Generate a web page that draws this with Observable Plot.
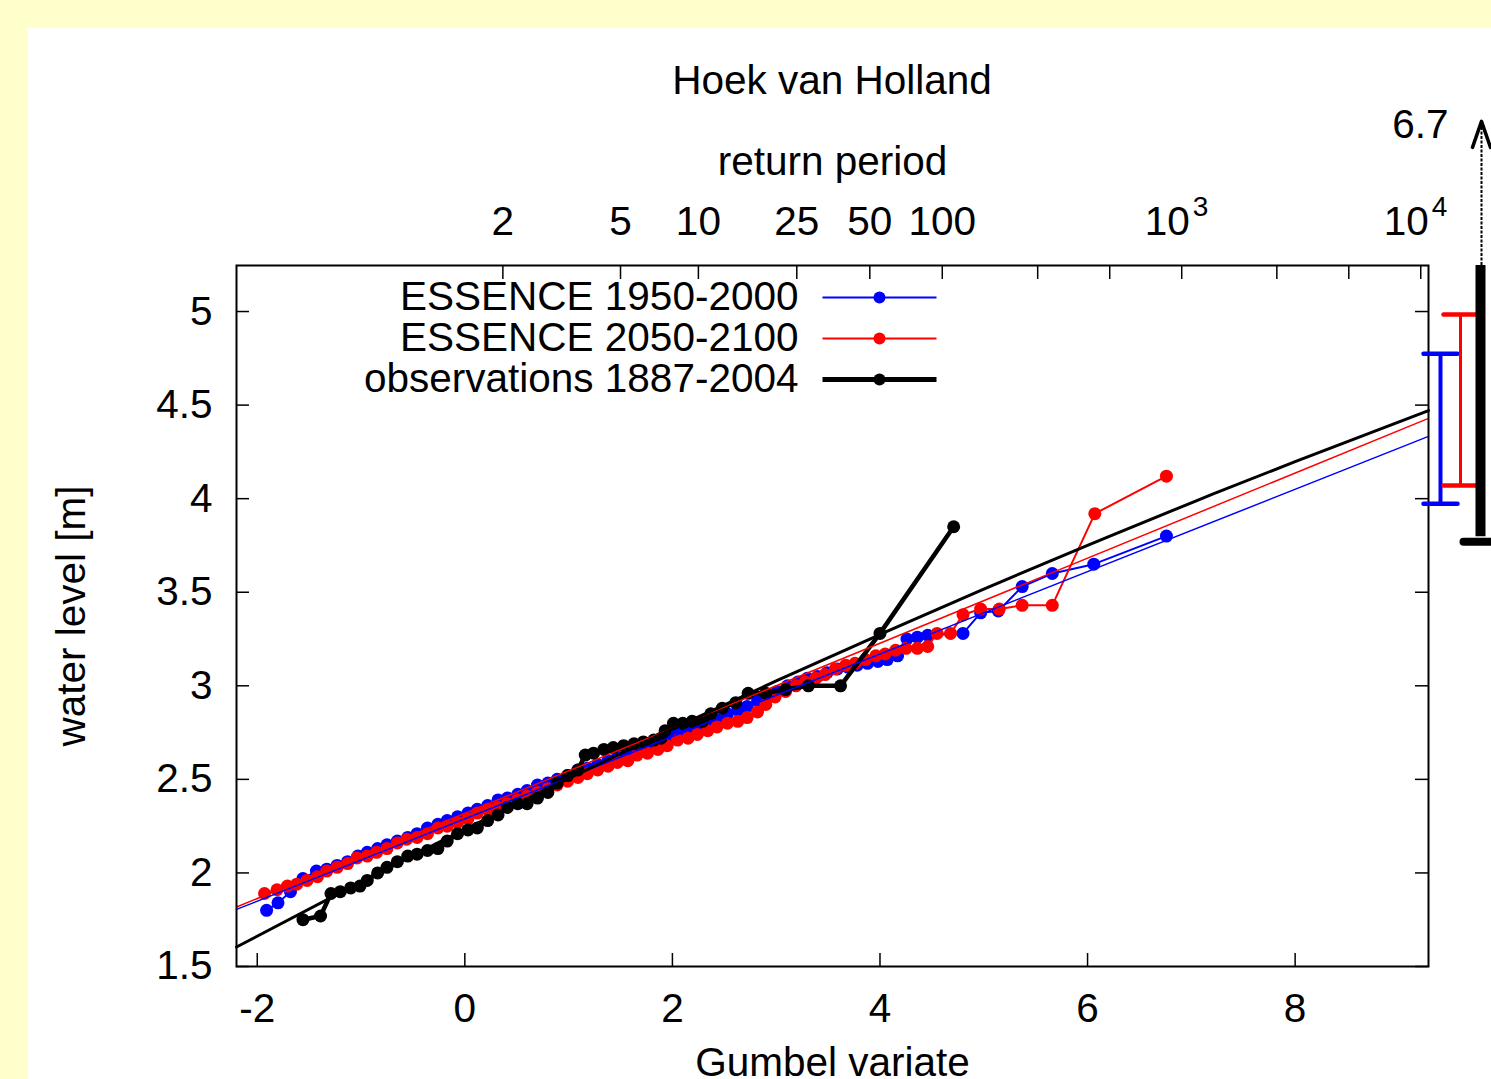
<!DOCTYPE html>
<html>
<head>
<meta charset="utf-8">
<script src="https://cdn.jsdelivr.net/npm/d3@7"></script>
<script src="https://cdn.jsdelivr.net/npm/@observablehq/plot@0.6"></script>
<style>
  html, body { margin: 0; padding: 0; width: 1491px; height: 1079px; overflow: hidden; background: #ffffcc; }
  #panel { position: absolute; left: 28px; top: 28px; width: 1463px; height: 1051px; background: #ffffff; overflow: hidden; }
  #title { position: absolute; left: 0; top: 28px; width: 1608px; text-align: center; font: 40.5px "Liberation Sans", Arial, sans-serif; line-height: 48px; color: #000; }
  #chart { position: absolute; left: 0; top: 72px; }
  #chart svg { overflow: visible; }
</style>
</head>
<body>
<div id="panel">
  <div id="title">Hoek van Holland</div>
  <div id="chart"></div>
</div>
<script>
// ---- data ----
const seriesNames = ["ESSENCE 1950-2000", "ESSENCE 2050-2100", "observations 1887-2004"];
const seriesColors = ["#0000ff", "#ff0000", "#000000"];

const essence1950X = [-1.91,-1.80,-1.68,-1.56,-1.43,-1.33,-1.23,-1.13,-1.03,-0.94,-0.84,-0.75,-0.65,-0.55,-0.46,-0.36,-0.26,-0.17,-0.07,0.03,0.12,0.22,0.32,0.41,0.51,0.60,0.70,0.80,0.89,0.99,1.09,1.18,1.28,1.38,1.47,1.57,1.66,1.76,1.86,1.95,2.05,2.15,2.24,2.34,2.43,2.53,2.63,2.72,2.82,2.92,3.01,3.11,3.21,3.30,3.40,3.49,3.59,3.69,3.78,3.88,3.98,4.07,4.17,4.26,4.36,4.46,4.80,4.97,5.14,5.37,5.66,6.06,6.76];
const essence1950Y = [1.80,1.84,1.90,1.97,2.01,2.02,2.04,2.06,2.09,2.11,2.13,2.15,2.17,2.19,2.21,2.24,2.26,2.28,2.30,2.32,2.34,2.36,2.39,2.40,2.42,2.44,2.47,2.48,2.50,2.52,2.55,2.56,2.58,2.60,2.62,2.64,2.66,2.68,2.71,2.73,2.75,2.77,2.79,2.81,2.82,2.85,2.87,2.89,2.92,2.95,2.97,3.00,3.02,3.04,3.05,3.07,3.09,3.10,3.11,3.12,3.13,3.14,3.16,3.25,3.26,3.27,3.28,3.39,3.40,3.53,3.60,3.65,3.80];

const essence2050X = [-1.93,-1.81,-1.71,-1.62,-1.52,-1.42,-1.33,-1.23,-1.13,-1.04,-0.94,-0.85,-0.75,-0.65,-0.56,-0.46,-0.36,-0.26,-0.17,-0.07,0.03,0.12,0.22,0.32,0.41,0.51,0.60,0.70,0.80,0.89,0.99,1.09,1.18,1.28,1.38,1.47,1.57,1.66,1.76,1.86,1.95,2.05,2.15,2.24,2.34,2.43,2.53,2.63,2.72,2.82,2.90,2.99,3.09,3.19,3.28,3.38,3.47,3.57,3.67,3.76,3.86,3.96,4.05,4.15,4.25,4.36,4.46,4.55,4.68,4.80,4.97,5.15,5.37,5.66,6.07,6.76];
const essence2050Y = [1.89,1.91,1.93,1.94,1.96,1.98,2.01,2.03,2.05,2.08,2.09,2.11,2.13,2.16,2.18,2.19,2.21,2.24,2.25,2.27,2.29,2.32,2.34,2.35,2.37,2.39,2.41,2.43,2.45,2.47,2.49,2.51,2.53,2.55,2.57,2.59,2.60,2.63,2.64,2.66,2.68,2.71,2.72,2.74,2.76,2.78,2.80,2.81,2.83,2.86,2.90,2.94,2.97,3.00,3.02,3.04,3.06,3.09,3.11,3.12,3.14,3.16,3.17,3.19,3.20,3.20,3.21,3.28,3.28,3.38,3.41,3.41,3.43,3.43,3.92,4.12];

const obsX = [-1.56,-1.39,-1.29,-1.20,-1.10,-1.01,-0.94,-0.84,-0.75,-0.65,-0.55,-0.46,-0.36,-0.26,-0.17,-0.07,0.03,0.12,0.22,0.32,0.41,0.51,0.60,0.70,0.80,0.89,0.99,1.09,1.16,1.24,1.34,1.43,1.53,1.63,1.72,1.82,1.89,1.93,2.01,2.10,2.19,2.29,2.37,2.48,2.61,2.73,2.90,3.09,3.31,3.62,4.00,4.71];
const obsY = [1.75,1.77,1.89,1.90,1.92,1.93,1.96,2.00,2.03,2.06,2.09,2.10,2.12,2.13,2.17,2.21,2.23,2.24,2.28,2.31,2.35,2.37,2.37,2.40,2.43,2.48,2.52,2.55,2.63,2.64,2.66,2.67,2.68,2.69,2.70,2.71,2.72,2.76,2.80,2.80,2.81,2.81,2.85,2.88,2.91,2.96,2.96,2.98,3.00,3.00,3.28,3.85];

// fitted distributions (water level)
const fit1950X = [-2.2, 9.285];
const fit1950Y = [1.805, 4.333];
const fit2050X = [-2.2, 9.285];
const fit2050Y = [1.818, 4.429];
const fitObsX = [-2.2, -1, 0, 1, 2, 3, 4, 5, 6, 7, 8, 9.285];
const fitObsY = [1.604, 1.952, 2.233, 2.505, 2.769, 3.026, 3.274, 3.516, 3.750, 3.978, 4.198, 4.471];

// 10000-year return level ranges (right margin)
const rangeLow  = [3.973, 4.07, 3.77];
const rangeHigh = [4.775, 4.984, 6.7];

// axes
const xTicks = [-2, 0, 2, 4, 6, 8];
const yTicks = [1.5, 2, 2.5, 3, 3.5, 4, 4.5, 5];
const returnPeriodTicks = [2, 5, 10, 25, 50, 100, 250, 500, 1000, 2500, 5000, 10000];
const returnPeriodLabelT = [2, 5, 10, 25, 50, 100];
const returnPeriodPowT = [1000, 10000];
const returnPeriodPowExp = ["3", "4"];

// ---- layout ----
const W = 1463, H = 1000, mL = 208, mR = 63, mT = 165, mB = 134;
const plotW = W - mL - mR, plotH = H - mT - mB;
const xDomain = [-2.2, 9.285];
const yDomain = [1.5, 5.246];
const font = "Liberation Sans, Arial, sans-serif";
const FS = 40.5;

const gumbel = T => -Math.log(-Math.log(1 - 1 / T));
const pts = (xs, ys) => xs.map((x, i) => ({x, y: ys[i]}));
const series = [pts(essence1950X, essence1950Y), pts(essence2050X, essence2050Y), pts(obsX, obsY)];
const fits = [pts(fit1950X, fit1950Y), pts(fit2050X, fit2050Y), pts(fitObsX, fitObsY)];
const hLine = half => ({draw(ctx) { ctx.moveTo(-half, 0); ctx.lineTo(half, 0); }});
const arrowHead = {draw(ctx) { ctx.moveTo(-9, 26); ctx.lineTo(0, 0); ctx.lineTo(9, 26); }};

const seriesMarks = series.flatMap((data, i) => [
  Plot.line(data, {x: "x", y: "y", stroke: seriesColors[i], strokeWidth: i === 2 ? 4.5 : 2, strokeLinejoin: "round"}),
  Plot.dot(data, {x: "x", y: "y", fill: seriesColors[i], r: 6.5})
]);
const fitMarks = fits.map((data, i) =>
  Plot.line(data, {x: "x", y: "y", curve: "natural", stroke: seriesColors[i], strokeWidth: i === 2 ? 3 : 1.5})
);

// range bars outside the right edge
const barDx = [12, 32, 52];
const barWidth = [4, 3, 10];
const capWidth = [4.5, 4.5, 8];
const arrowRise = 0.77; // display length of the off-scale arrow
const rangeMarks = [0, 1].flatMap(i => [
  Plot.ruleX([0], {x: () => xDomain[1], y1: () => rangeLow[i], y2: () => rangeHigh[i], dx: barDx[i], stroke: seriesColors[i], strokeWidth: barWidth[i]}),
  Plot.dot([rangeLow[i], rangeHigh[i]], {x: () => xDomain[1], y: d => d, dx: barDx[i], symbol: hLine(17), r: 5, fill: "none", stroke: seriesColors[i], strokeWidth: capWidth[i], strokeLinecap: "round"})
]).concat([
  Plot.ruleX([0], {x: () => xDomain[1], y1: () => rangeLow[2], y2: () => yDomain[1], insetTop: -5, dx: barDx[2], stroke: "#000", strokeWidth: barWidth[2]}),
  Plot.dot([rangeLow[2]], {x: () => xDomain[1], y: d => d, dx: barDx[2], symbol: hLine(17), r: 5, fill: "none", stroke: "#000", strokeWidth: capWidth[2], strokeLinecap: "round"}),
  Plot.ruleX([0], {x: () => xDomain[1], y1: () => yDomain[1], y2: () => yDomain[1] + arrowRise, insetBottom: -5, dx: barDx[2] + 1, stroke: "#000", strokeWidth: 2, strokeDasharray: "3,1.5"}),
  Plot.dot([0], {x: () => xDomain[1], y: () => yDomain[1] + arrowRise, dx: barDx[2] + 1, symbol: arrowHead, r: 5, fill: "none", stroke: "#000", strokeWidth: 3.5, strokeLinejoin: "round", strokeLinecap: "round"}),
  Plot.text([String(rangeHigh[2])], {frameAnchor: "top-right", textAnchor: "end", lineAnchor: "middle", dx: 20, dy: -140, fontSize: FS, fill: "#000"})
]);

// inward ticks on all four sides
const tickMarks = [
  Plot.tickX(xTicks, {x: d => d, insetTop: plotH - 13, strokeWidth: 1.5}),
  Plot.tickX(returnPeriodTicks.map(gumbel), {x: d => d, insetBottom: plotH - 14, strokeWidth: 1.5}),
  Plot.tickY(yTicks, {y: d => d, insetRight: plotW - 13, strokeWidth: 1.5}),
  Plot.tickY(yTicks, {y: d => d, insetLeft: plotW - 13, strokeWidth: 1.5})
];

const textMarks = [
  Plot.axisX(xTicks, {anchor: "bottom", tickSize: 0, tickPadding: 27, tickFormat: d => String(d), fontSize: FS, label: null}),
  Plot.axisY(yTicks, {anchor: "left", tickSize: 0, tickPadding: 24, tickFormat: d => String(d), fontSize: FS, label: null}),
  Plot.text(returnPeriodLabelT, {x: gumbel, text: d => String(d), frameAnchor: "top", lineAnchor: "middle", dy: -43, fontSize: FS}),
  Plot.text(returnPeriodPowT, {x: gumbel, text: () => "10", textAnchor: "end", lineAnchor: "middle", dx: 8, frameAnchor: "top", dy: -43, fontSize: FS}),
  Plot.text(returnPeriodPowT, {x: gumbel, text: (d, i) => returnPeriodPowExp[i], textAnchor: "start", lineAnchor: "middle", dx: 11, frameAnchor: "top", dy: -58, fontSize: 28}),
  Plot.text(["return period"], {frameAnchor: "top", lineAnchor: "middle", dy: -103, fontSize: FS}),
  Plot.text(["Gumbel variate"], {frameAnchor: "bottom", lineAnchor: "middle", dy: 97, fontSize: FS}),
  Plot.text(["water level [m]"], {frameAnchor: "left", textAnchor: "middle", lineAnchor: "middle", dx: -164, rotate: -90, fontSize: FS})
];

// legend inside the frame, top left
const legendDy = [32, 73, 114];
const legendMarks = seriesNames.flatMap((name, i) => [
  Plot.text([name], {frameAnchor: "top-left", dx: 562, dy: legendDy[i], textAnchor: "end", lineAnchor: "middle", fontSize: FS}),
  Plot.dot([0], {frameAnchor: "top-left", dx: 643, dy: legendDy[i], symbol: hLine(57), r: 5, fill: "none", stroke: seriesColors[i], strokeWidth: i === 2 ? 5 : 2}),
  Plot.dot([0], {frameAnchor: "top-left", dx: 643, dy: legendDy[i], r: 6, fill: seriesColors[i]})
]);

const chart = Plot.plot({
  width: W, height: H,
  marginLeft: mL, marginRight: mR, marginTop: mT, marginBottom: mB,
  x: {domain: xDomain},
  y: {domain: yDomain},
  style: {fontFamily: font, fontSize: FS + "px", background: "transparent", color: "#000", overflow: "visible"},
  marks: [
    ...seriesMarks,
    ...fitMarks,
    ...tickMarks,
    Plot.frame({stroke: "#000", strokeWidth: 2}),
    ...rangeMarks,
    ...textMarks,
    ...legendMarks
  ]
});
document.getElementById("chart").appendChild(chart);
</script>
</body>
</html>
